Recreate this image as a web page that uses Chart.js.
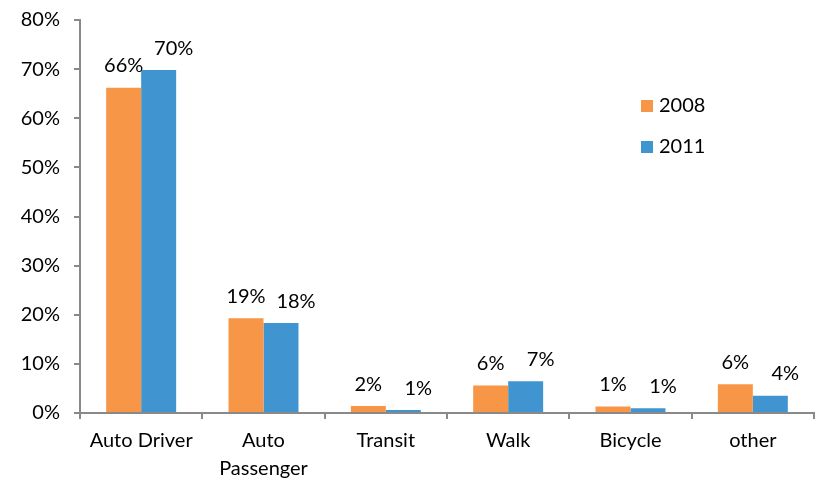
<!DOCTYPE html>
<html>
<head>
<meta charset="utf-8">
<script src="https://cdn.jsdelivr.net/npm/chart.js@4"></script>
<style>
  html, body { margin: 0; padding: 0; background: #fff; }
  #wrap { width: 822px; height: 480px; }
</style>
</head>
<body>
<div id="wrap"><canvas id="chart" width="822" height="480"></canvas></div>
<script>
const categories = ['Auto Driver', ['Auto', 'Passenger'], 'Transit', 'Walk', 'Bicycle', 'other'];
const seriesNames = ['2008', '2011'];
const values2008 = [66.2, 19.3, 1.4, 5.6, 1.3, 5.85];
const values2011 = [69.8, 18.3, 0.6, 6.45, 0.95, 3.5];
const labels2008 = ['66%', '19%', '2%', '6%', '1%', '6%'];
const labels2011 = ['70%', '18%', '1%', '7%', '1%', '4%'];
const yTicks = [0, 10, 20, 30, 40, 50, 60, 70, 80];

const FONT = 'Lato, "Open Sans", sans-serif';
const FSIZE = 20;
const axisGrey = '#898989';

// value labels above each bar (2011 ones sit a little to the right, like the original)
const barLabels = {
  id: 'barLabels',
  afterDatasetsDraw(chart) {
    const ctx = chart.ctx;
    const texts = [labels2008, labels2011];
    ctx.save();
    ctx.font = FSIZE + 'px ' + FONT;
    ctx.fillStyle = '#000';
    ctx.textAlign = 'center';
    ctx.textBaseline = 'middle';
    chart.data.datasets.forEach((ds, di) => {
      const meta = chart.getDatasetMeta(di);
      meta.data.forEach((bar, i) => {
        const dx = di === 1 ? 15 : 0;
        ctx.fillText(texts[di][i], bar.x + dx, bar.y - 22);
      });
    });
    ctx.restore();
  }
};

// legend inside the plot, right side
const sideLegend = {
  id: 'sideLegend',
  afterDraw(chart) {
    const ctx = chart.ctx;
    ctx.save();
    ctx.font = FSIZE + 'px ' + FONT;
    ctx.textBaseline = 'middle';
    chart.data.datasets.forEach((ds, i) => {
      const y = 106 + i * 41;
      ctx.fillStyle = ds.backgroundColor;
      ctx.fillRect(641, y - 6, 12, 12);
      ctx.fillStyle = '#000';
      ctx.fillText(ds.label, 659, y);
    });
    ctx.restore();
  }
};

new Chart(document.getElementById('chart'), {
  type: 'bar',
  data: {
    labels: categories,
    datasets: [
      { label: seriesNames[0], data: values2008, backgroundColor: '#F79646' },
      { label: seriesNames[1], data: values2011, backgroundColor: '#4095D1' }
    ]
  },
  options: {
    responsive: false,
    animation: false,
    devicePixelRatio: 1,
    layout: { padding: { top: 20, right: 8, left: 0, bottom: 0 } },
    datasets: { bar: { categoryPercentage: 0.572, barPercentage: 1.0 } },
    plugins: { legend: { display: false }, tooltip: { enabled: false } },
    scales: {
      x: {
        grid: { offset: true, drawOnChartArea: false, drawTicks: true, tickLength: 6, color: axisGrey, lineWidth: 2 },
        border: { color: axisGrey, width: 2 },
        ticks: { color: '#000', font: { family: FONT, size: FSIZE, lineHeight: 1.4 }, padding: 8, maxRotation: 0, autoSkip: false },
        afterFit(s) { s.height = 67; }
      },
      y: {
        min: 0,
        max: 80,
        afterBuildTicks(s) { s.ticks = yTicks.map(v => ({ value: v })); },
        grid: { drawOnChartArea: false, drawTicks: true, tickLength: 6, color: axisGrey, lineWidth: 2 },
        border: { color: axisGrey, width: 2 },
        ticks: { color: '#000', font: { family: FONT, size: FSIZE }, padding: 14, callback: v => v + '%' },
        afterFit(s) { s.width = 80; s.paddingTop = 0; }
      }
    }
  },
  plugins: [barLabels, sideLegend]
});
</script>
</body>
</html>
